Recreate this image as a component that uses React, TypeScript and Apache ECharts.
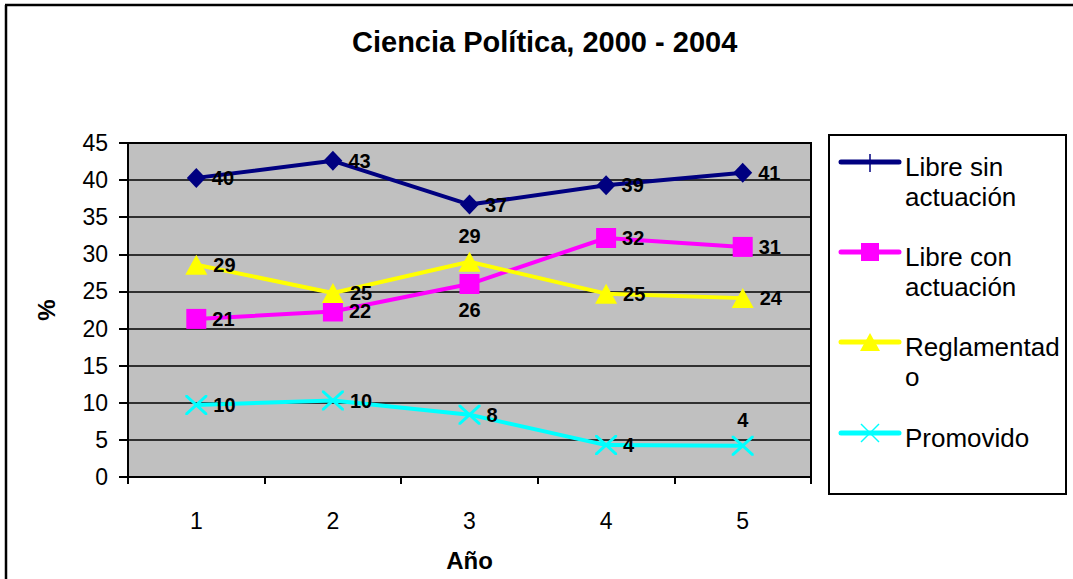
import React, { useEffect, useRef } from "react";
import * as echarts from "echarts";

const titleText = "Ciencia Política, 2000 - 2004";
const years = ["1", "2", "3", "4", "5"];
const yMin = 0;
const yMax = 45;
const yStep = 5;
const xName = "Año";
const yName = "%";

const seriesNames = ["Libre sin actuación", "Libre con actuación", "Reglamentado", "Promovido"];
const legendLabels = ["Libre sin\nactuación", "Libre con\nactuación", "Reglamentad\no", "Promovido"];

const libreSin = [40.3, 42.6, 36.7, 39.3, 41.0];
const libreCon = [21.3, 22.3, 26.0, 32.2, 31.0];
const reglamentado = [28.6, 24.8, 29.0, 24.7, 24.1];
const promovido = [9.7, 10.3, 8.4, 4.3, 4.2];

const libreSinPos = ["right", "right", "right", "right", "right"];
const libreConPos = ["right", "right", "bottom", "right", "right"];
const reglamentadoPos = ["right", "right", "top", "right", "right"];
const promovidoPos = ["right", "right", "right", "right", "top"];

const COLORS = ["#000080", "#FF00FF", "#FFFF00", "#00FFFF"];
const FONT = "'Liberation Sans', Arial, sans-serif";

const X_PATH =
  "path://M0,0L10,0L50,40L90,0L100,0L100,10L60,50L100,90L100,100L90,100L50,60L10,100L0,100L0,90L40,50L0,10Z";

function makeSeries(name: string, values: number[], pos: string[], color: string, symbol: string, symbolSize: any) {
  return {
    name,
    type: "line",
    data: values.map((v, i) => ({
      value: v,
      label: { position: pos[i] },
    })),
    symbol,
    symbolSize,
    lineStyle: { color, width: 4 },
    itemStyle: { color, borderWidth: 0 },
    label: {
      show: true,
      color: "#000",
      fontFamily: FONT,
      fontWeight: "bold",
      fontSize: 20,
      distance: 6,
      formatter: (p: any) => String(Math.round(p.value)),
    },
    emphasis: { disabled: true },
  };
}

function legendGraphics() {
  const els: any[] = [];
  els.push({
    type: "rect",
    shape: { x: 829, y: 135, width: 237, height: 359 },
    style: { fill: "#fff", stroke: "#000", lineWidth: 2 },
    z: 10,
  });
  const ys = [162, 252, 342, 433];
  seriesNames.forEach((_, i) => {
    const y = ys[i];
    const c = COLORS[i];
    els.push({
      type: "line",
      shape: { x1: 841, y1: y, x2: 899, y2: y },
      style: { stroke: c, lineWidth: 5, lineCap: "round" },
      z: 11,
    });
    if (i === 0) {
      els.push({
        type: "line",
        shape: { x1: 870, y1: 154, x2: 870, y2: 172 },
        style: { stroke: c, lineWidth: 1.5 },
        z: 12,
      });
    } else if (i === 1) {
      els.push({
        type: "rect",
        shape: { x: 861, y: y - 9, width: 18, height: 18 },
        style: { fill: c },
        z: 12,
      });
    } else if (i === 2) {
      els.push({
        type: "polygon",
        shape: { points: [[870, y - 9], [880, y + 9], [860, y + 9]] },
        style: { fill: c },
        z: 12,
      });
    } else {
      els.push({
        type: "line",
        shape: { x1: 861, y1: y - 9, x2: 879, y2: y + 9 },
        style: { stroke: c, lineWidth: 1.5 },
        z: 12,
      });
      els.push({
        type: "line",
        shape: { x1: 879, y1: y - 9, x2: 861, y2: y + 9 },
        style: { stroke: c, lineWidth: 1.5 },
        z: 12,
      });
    }
    els.push({
      type: "text",
      x: 905,
      y: y - 10,
      style: {
        text: legendLabels[i],
        fill: "#000",
        font: `26px ${FONT}`,
        lineHeight: 30,
        verticalAlign: "top",
        align: "left",
      },
      z: 12,
    });
  });
  // outer chart border (top and left)
  els.push({
    type: "line",
    shape: { x1: 5, y1: 5, x2: 1073, y2: 5 },
    style: { stroke: "#000", lineWidth: 2.5 },
    z: 10,
  });
  els.push({
    type: "line",
    shape: { x1: 6, y1: 5, x2: 6, y2: 579 },
    style: { stroke: "#000", lineWidth: 2.5 },
    z: 10,
  });
  return els;
}

export default function App() {
  const ref = useRef<HTMLDivElement>(null);
  useEffect(() => {
    if (!ref.current) return;
    const chart = echarts.init(ref.current, undefined, { renderer: "svg" });
    const option: any = {
      animation: false,
      backgroundColor: "#fff",
      title: {
        text: titleText,
        left: 352,
        top: 27,
        padding: 0,
        textStyle: { fontFamily: FONT, fontWeight: "bold", fontSize: 29, color: "#000" },
      },
      grid: {
        left: 128,
        right: 262,
        top: 143,
        bottom: 102,
        show: true,
        backgroundColor: "#C0C0C0",
        borderColor: "#000",
        borderWidth: 2,
      },
      xAxis: {
        type: "category",
        data: years,
        boundaryGap: true,
        name: xName,
        nameLocation: "middle",
        nameGap: 71,
        nameTextStyle: { fontFamily: FONT, fontWeight: "bold", fontSize: 24, color: "#000" },
        axisLine: { show: true, lineStyle: { color: "#000", width: 2 } },
        axisTick: { show: true, length: 7, lineStyle: { color: "#000", width: 2 } },
        axisLabel: { color: "#000", fontFamily: FONT, fontSize: 23, margin: 32 },
        splitLine: { show: false },
      },
      yAxis: {
        type: "value",
        min: yMin,
        max: yMax,
        interval: yStep,
        name: yName,
        nameLocation: "middle",
        nameRotate: 90,
        nameGap: 70,
        nameTextStyle: { fontFamily: FONT, fontWeight: "bold", fontSize: 24, color: "#000" },
        axisLine: { show: true, lineStyle: { color: "#000", width: 2 } },
        axisTick: { show: true, length: 9, lineStyle: { color: "#000", width: 2 } },
        axisLabel: { color: "#000", fontFamily: FONT, fontSize: 23, margin: 20 },
        splitLine: { show: true, lineStyle: { color: "#000", width: 1.5 } },
      },
      series: [
        makeSeries(seriesNames[0], libreSin, libreSinPos, COLORS[0], "diamond", [19, 20]),
        makeSeries(seriesNames[1], libreCon, libreConPos, COLORS[1], "rect", 20),
        makeSeries(seriesNames[2], reglamentado, reglamentadoPos, COLORS[2], "triangle", [22, 20]),
        makeSeries(seriesNames[3], promovido, promovidoPos, COLORS[3], X_PATH, [22, 20]),
      ],
      graphic: legendGraphics(),
    };
    chart.setOption(option);
    return () => chart.dispose();
  }, []);
  return (
    <div
      ref={ref}
      style={{ position: "absolute", left: 0, top: 0, width: 1073, height: 579 }}
    />
  );
}
